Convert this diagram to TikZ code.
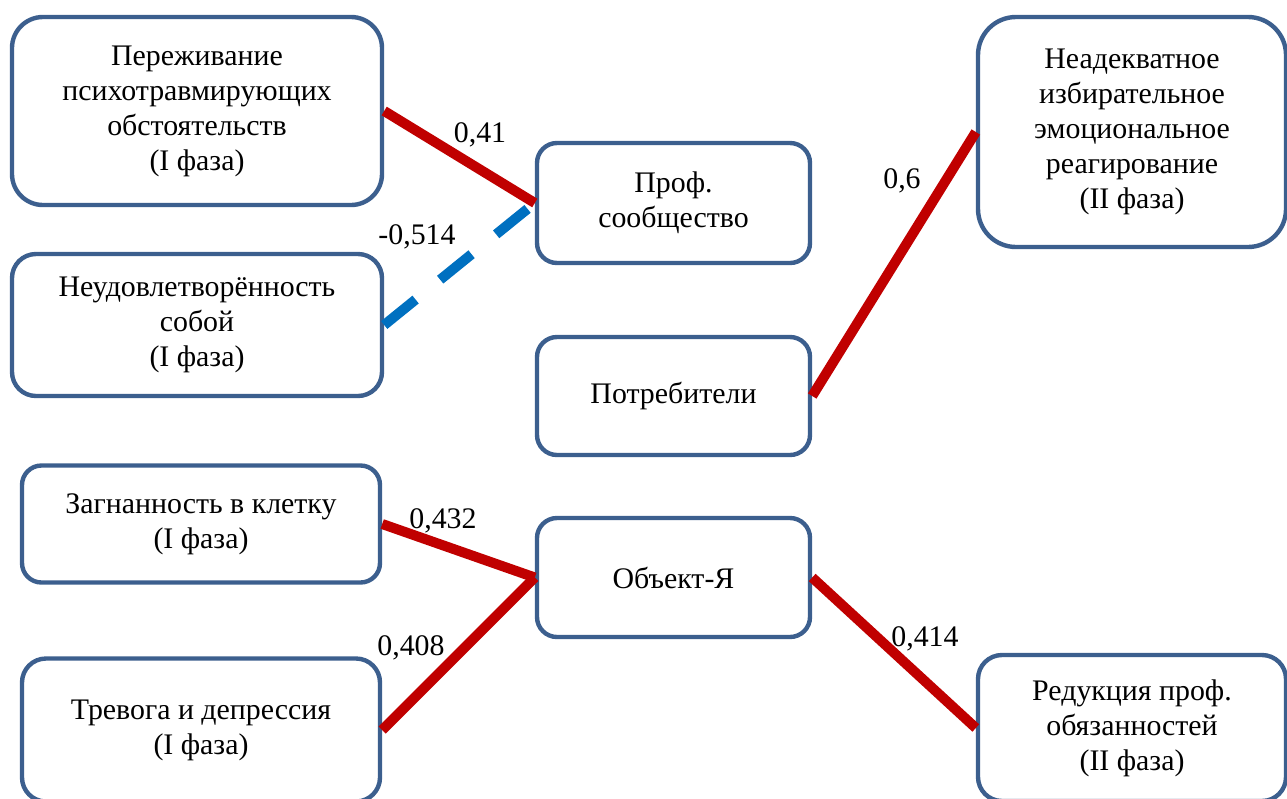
\documentclass[tikz,border=0pt]{standalone}
\usepackage{fontspec}
\setmainfont{Liberation Serif}
\definecolor{boxblue}{HTML}{3C5F8E}
\definecolor{linkred}{HTML}{C00000}
\definecolor{linkblue}{HTML}{0070C0}
\begin{document}
\begin{tikzpicture}[x=0.02cm, y=-0.02cm,
        factor/.style={draw=boxblue, line width=2.5pt, fill=white, align=center,
            inner sep=0pt, font=\fontsize{17}{19.9}\selectfont},
        poslink/.style={draw=linkred, line width=5.7pt},
        neglink/.style={draw=linkblue, line width=5.7pt, dash pattern=on 23pt off 18pt},
        coef/.style={font=\fontsize{17}{19.9}\selectfont, inner sep=0pt}]
        \useasboundingbox (0,0) rectangle (1287,798);
        \clip (0,0) rectangle (1287,798);

        % Left column: first phase
        \node[factor, minimum width=370*0.02cm, minimum height=188*0.02cm, rounded corners=0.62cm] (perezh) at (197,111)
            {Переживание\\психотравмирующих\\обстоятельств\\(I фаза)};
        \node[factor, minimum width=370*0.02cm, minimum height=142*0.02cm, rounded corners=0.48cm] (neudovl) at (197,325)
            {Неудовлетворённость\\собой\\(I фаза)};
        \node[factor, minimum width=358*0.02cm, minimum height=117*0.02cm, rounded corners=0.39cm] (zagn) at (201,524)
            {Загнанность в клетку\\(I фаза)};
        \node[factor, minimum width=358*0.02cm, minimum height=143*0.02cm, rounded corners=0.48cm] (trev) at (201,730)
            {Тревога и депрессия\\(I фаза)};

        % Middle column
        \node[factor, minimum width=273*0.02cm, minimum height=120*0.02cm, rounded corners=0.4cm] (prof) at (673.5,203)
            {Проф.\\сообщество};
        \node[factor, minimum width=273*0.02cm, minimum height=118*0.02cm, rounded corners=0.4cm] (potr) at (673.5,396)
            {Потребители};
        \node[factor, minimum width=273*0.02cm, minimum height=119*0.02cm, rounded corners=0.4cm] (obj) at (673.5,577.5)
            {Объект-Я};

        % Right column: second phase
        \node[factor, minimum width=308*0.02cm, minimum height=230*0.02cm, rounded corners=0.76cm] (neadekv) at (1132,132)
            {Неадекватное\\избирательное\\эмоциональное\\реагирование\\(II фаза)};
        \node[factor, minimum width=308*0.02cm, minimum height=146*0.02cm, rounded corners=0.48cm] (redukc) at (1132,728)
            {Редукция проф.\\обязанностей\\(II фаза)};

        % Correlations
        \draw[poslink] (perezh.east) -- (prof.west);
        \draw[neglink] (neudovl.east) -- (prof.west);
        \draw[poslink] (potr.east) -- (neadekv.west);
        \draw[poslink] (zagn.east) -- (obj.west);
        \draw[poslink] (trev.east) -- (obj.west);
        \draw[poslink] (obj.east) -- (redukc.west);

        % Coefficients
        \node[coef] (k1) at (480,135) {0,41};
        \node[coef] (k2) at (417,237) {-0,514};
        \node[coef] (k3) at (902,181) {0,6};
        \node[coef] (k4) at (443,521) {0,432};
        \node[coef] (k5) at (411,648) {0,408};
        \node[coef] (k6) at (925,639) {0,414};
    \end{tikzpicture}
\end{document}
